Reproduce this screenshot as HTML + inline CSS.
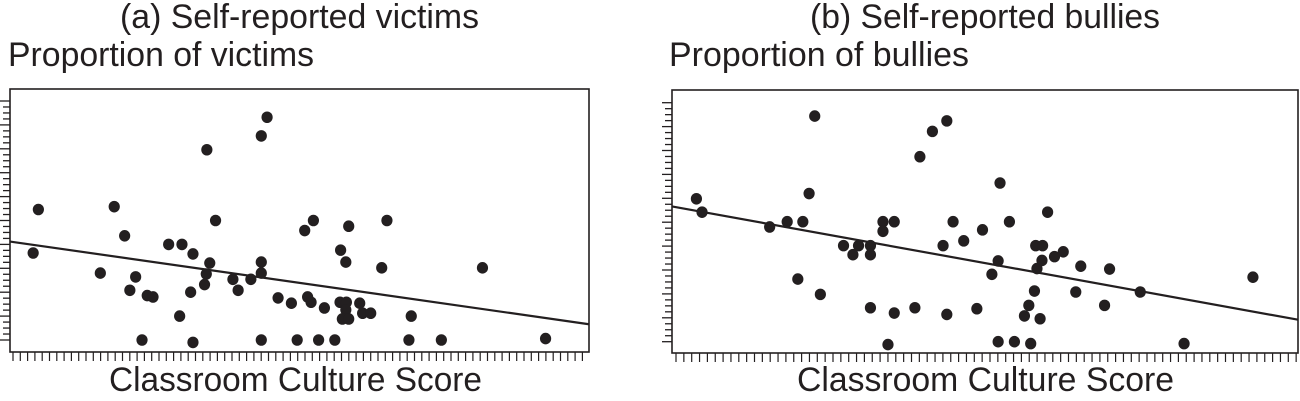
<!DOCTYPE html>
<html><head><meta charset="utf-8"><style>
body{margin:0;background:#fff;width:1300px;height:401px;overflow:hidden}
svg{display:block}
text{font-family:"Liberation Sans",Arial,sans-serif;fill:#231f20}
</style></head><body>
<svg id="chart" width="1300" height="401" viewBox="0 0 1300 401">
<text x="120" y="28" font-size="34" textLength="359" lengthAdjust="spacingAndGlyphs">(a) Self-reported victims</text>
<text x="8" y="66" font-size="34" textLength="306" lengthAdjust="spacingAndGlyphs">Proportion of victims</text>
<text x="109" y="391" font-size="34" textLength="373" lengthAdjust="spacingAndGlyphs">Classroom Culture Score</text>
<text x="810" y="28" font-size="34" textLength="350" lengthAdjust="spacingAndGlyphs">(b) Self-reported bullies</text>
<text x="669" y="66" font-size="34" textLength="300" lengthAdjust="spacingAndGlyphs">Proportion of bullies</text>
<text x="797" y="391" font-size="34" textLength="377" lengthAdjust="spacingAndGlyphs">Classroom Culture Score</text>
</svg>
<script>
// Panel (a): victims — x = culture score (0-100), y = proportion
const victimsX = [4.9,4.0,18.0,19.8,15.6,21.7,20.7,23.7,24.7,27.4,29.7,31.6,34.5,33.9,33.6,31.2,29.3,34.0,35.5,43.4,44.4,43.4,43.4,38.5,39.4,41.6,46.3,48.6,51.4,52.0,54.3,50.9,52.4,57.1,58.0,58.5,57.0,58.1,58.0,57.4,58.5,60.4,60.9,62.3,64.2,65.1,69.3,81.6,22.8,31.6,43.4,49.6,53.3,56.1,68.9,74.5,92.5];
const victimsY = [0.273,0.182,0.279,0.218,0.140,0.132,0.104,0.093,0.090,0.200,0.200,0.180,0.161,0.138,0.116,0.100,0.050,0.398,0.250,0.427,0.466,0.163,0.140,0.127,0.104,0.127,0.088,0.077,0.090,0.079,0.067,0.229,0.250,0.188,0.163,0.238,0.079,0.079,0.063,0.044,0.044,0.077,0.056,0.056,0.151,0.250,0.050,0.151,0.0,-0.005,0.0,0.0,0.0,0.0,0.0,0.0,0.003];
const victimsFit = [0.206,0.033]; // fitted proportion at score 0 and 100

// Panel (b): bullies
const bulliesX = [3.9,4.8,15.6,18.4,20.9,21.9,22.8,20.1,23.7,27.4,28.9,29.8,31.7,31.7,33.7,33.7,35.5,31.7,35.5,34.5,38.8,39.6,41.6,43.9,43.3,44.9,46.6,43.9,48.7,49.6,51.1,52.1,52.4,53.9,52.1,54.7,57.3,57.0,56.3,58.8,57.9,58.3,58.1,59.2,59.1,60.0,61.1,62.5,64.5,65.3,69.1,69.9,74.8,81.8,92.8];
const bulliesY = [0.299,0.271,0.240,0.251,0.251,0.310,0.472,0.131,0.099,0.201,0.182,0.201,0.201,0.182,0.251,0.231,0.251,0.071,0.060,-0.006,0.071,0.387,0.440,0.462,0.201,0.251,0.211,0.057,0.069,0.234,0.141,0.169,0.332,0.251,0.0,0.0,-0.004,0.076,0.054,0.048,0.106,0.153,0.201,0.201,0.170,0.271,0.178,0.188,0.104,0.158,0.076,0.152,0.104,-0.004,0.135];
const bulliesFit = [0.283,0.046];

const yTicks = [0,0.05,0.1,0.15,0.2,0.25,0.3,0.35,0.4,0.45,0.5];

const NS = 'http://www.w3.org/2000/svg';
const svg = document.getElementById('chart');
function mk(tag, attrs, parent){ const e=document.createElementNS(NS,tag); for(const k in attrs) e.setAttribute(k,attrs[k]); (parent||svg).appendChild(e); return e; }

function panel(id, box, xs, ys, fit){
  const g = mk('g',{});
  
  
  const sx = v => box.l + (v/100)*(box.r-box.l);
  const sy = v => box.y0 - (v/0.05)*box.step;
  const frame = mk('rect',{x:box.l,y:box.t,width:box.r-box.l,height:box.b-box.t,fill:'none',stroke:'#231f20','stroke-width':1.6},g);
  
  
  const ya = mk('g',{stroke:'#231f20','stroke-width':1.3},g);
  
  
  for(let i=0;i<yTicks.length;i++){
    const y = sy(yTicks[i]);
    mk('line',{x1:box.l-10,x2:box.l,y1:y,y2:y},ya);
    if(i<yTicks.length-1){
      for(let m=1;m<4;m++){ const yy=y-m*box.step/4; mk('line',{x1:box.l-7,x2:box.l,y1:yy,y2:yy},ya); }
    }
  }
  const xa = mk('g',{stroke:'#231f20','stroke-width':1.2},g);
  
  
  for(let x=box.xt0;x<=box.r+0.5;x+=box.xts){ mk('line',{x1:x,x2:x,y1:box.b,y2:box.b+9},xa); }
  const ln = mk('line',{x1:sx(0),y1:sy(fit[0]),x2:sx(100),y2:sy(fit[1]),stroke:'#231f20','stroke-width':2.2},g);
  
  
  for(let i=0;i<xs.length && i<ys.length;i++){
    const c = mk('ellipse',{cx:sx(xs[i]),cy:sy(ys[i]),rx:5.6,ry:5.8,fill:'#231f20'},g);
    
    
  }
}
panel('panel-a',{l:10,r:589,t:89,b:352,y0:340,step:23.9,xt0:13,xts:7.3},victimsX,victimsY,victimsFit);
panel('panel-b',{l:672,r:1298,t:90,b:353,y0:341.7,step:23.9,xt0:676,xts:7.85},bulliesX,bulliesY,bulliesFit);
</script>
</body></html>
